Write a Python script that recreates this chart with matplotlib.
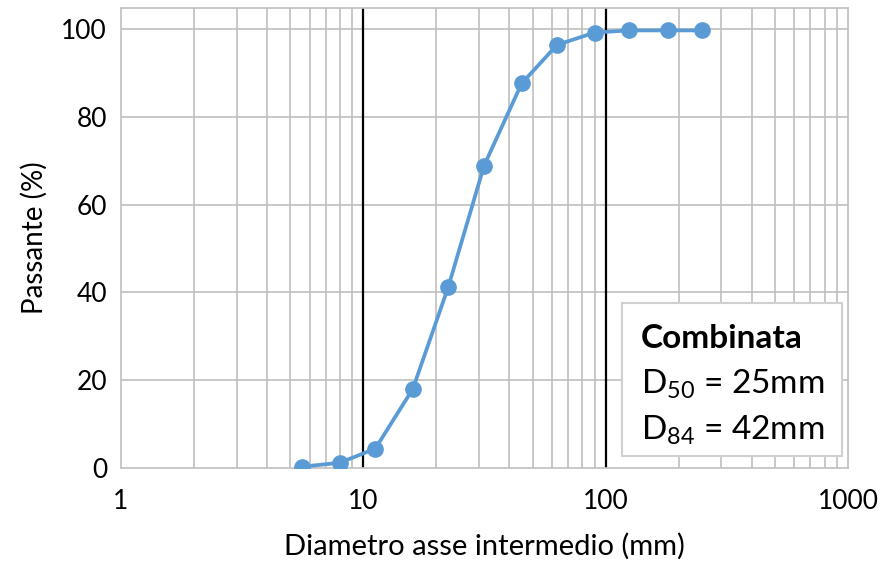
import numpy as np
import matplotlib.pyplot as plt
from matplotlib.ticker import FixedLocator, NullFormatter

plt.rcParams['font.family'] = ['Lato', 'DejaVu Sans']
plt.rcParams['mathtext.fontset'] = 'custom'
plt.rcParams['mathtext.rm'] = 'Lato'
plt.rcParams['mathtext.bf'] = 'Lato:bold'

# setacci (mm) e passante (%)
diametri = [5.6, 8, 11.2, 16, 22.4, 31.5, 45, 63, 90, 125, 180, 250]
passante = [0.3, 1.2, 4.4, 18.0, 41.2, 68.9, 87.6, 96.4, 99.2, 99.7, 99.7, 99.7]
decadi = [1, 10, 100, 1000]
y_ticks = [0, 20, 40, 60, 80, 100]

blu = '#5B9BD5'
grigio = '#BFBFBF'

fig = plt.figure(figsize=(8.82, 5.71), dpi=100)
ax = fig.add_axes([121/882, 1 - 468/571, 727/882, 460/571])

ax.set_xscale('log')
ax.set_xlim(1, 1000)
ax.set_ylim(0, 104.8)

# griglia
minori = [m * d for d in decadi[:-1] for m in range(2, 10)]
for x in minori:
    ax.axvline(x, color=grigio, lw=1.2, zorder=1)
for y in y_ticks[1:]:
    ax.axhline(y, color=grigio, lw=1.2, zorder=1)
for x in [10, 100]:
    ax.axvline(x, color='black', lw=1.6, zorder=2)

ax.plot(diametri, passante, color=blu, lw=2.7, marker='o', ms=11, zorder=3)

ax.xaxis.set_major_locator(FixedLocator(decadi))
ax.set_xticklabels([str(d) for d in decadi])
ax.xaxis.set_minor_locator(FixedLocator(minori))
ax.xaxis.set_minor_formatter(NullFormatter())
ax.set_yticks(y_ticks)
ax.tick_params(which='both', length=0, labelsize=19, pad=10)
ax.tick_params(axis='x', pad=15)

for s in ax.spines.values():
    s.set_color(grigio)
    s.set_linewidth(1.2)

ax.set_xlabel('Diametro asse intermedio (mm)', fontsize=21, labelpad=14)
ax.set_ylabel('Passante (%)', fontsize=20, labelpad=10)

# riquadro con i diametri caratteristici
box = plt.Rectangle((622/882, 1 - 456/571), 220/882, 153/571, transform=fig.transFigure,
                    facecolor='white', edgecolor='#D0D0D0', lw=1.5, zorder=5)
ax.add_patch(box)
righe = ['Combinata', r'D$_{50}$ = 25mm', r'D$_{84}$ = 42mm']
y_righe = [339, 384, 430]
for i, (t, yp) in enumerate(zip(righe, y_righe)):
    ax.text(641/882, 1 - yp/571, t, transform=fig.transFigure, fontsize=24,
            fontweight='bold' if i == 0 else 'normal', va='center', ha='left', zorder=6)

fig.savefig('out.png', dpi=100)
